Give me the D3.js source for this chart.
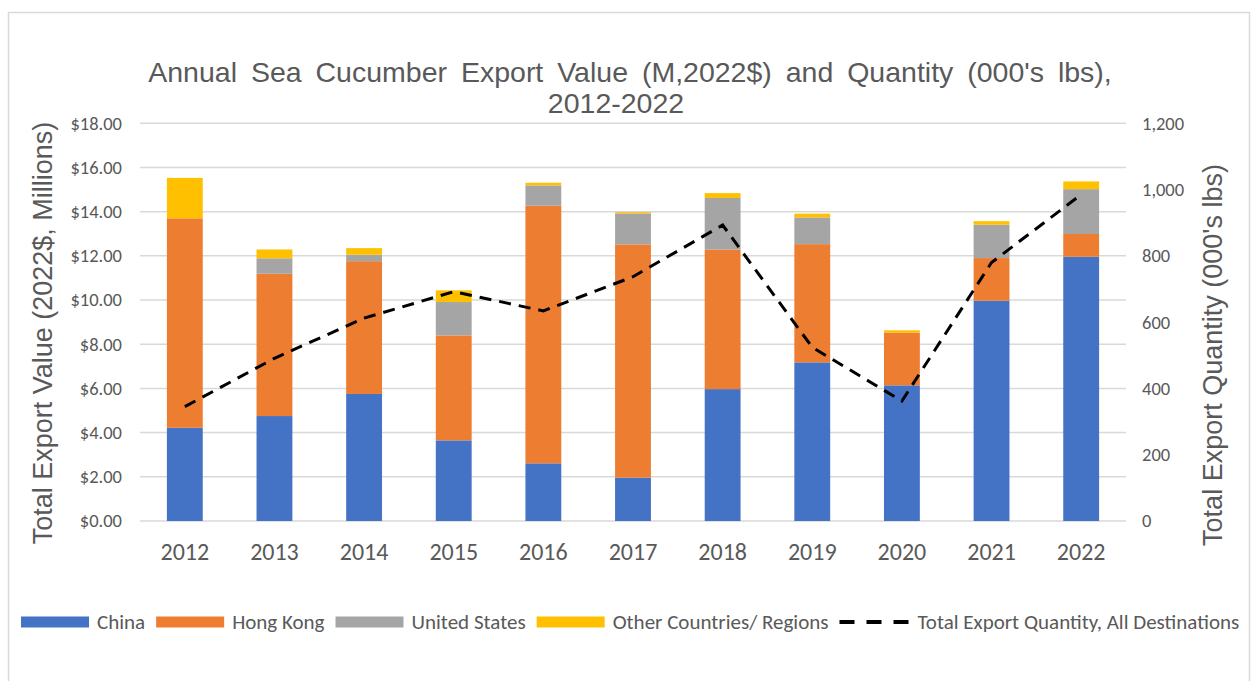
<!DOCTYPE html>
<html>
<head>
<meta charset="utf-8">
<script src="https://cdn.jsdelivr.net/npm/d3@7"></script>
<style>
  body { margin: 0; background: #fff; }
  svg { display: block; }
</style>
</head>
<body>
<div id="chart"></div>
<script>
// Chart data
const years = ["2012", "2013", "2014", "2015", "2016", "2017", "2018", "2019", "2020", "2021", "2022"];
const china = [4.22, 4.75, 5.75, 3.65, 2.61, 1.96, 5.97, 7.18, 6.14, 9.97, 11.96];
const hongKong = [9.48, 6.44, 6.01, 4.75, 11.66, 10.56, 6.32, 5.35, 2.38, 1.93, 1.03];
const unitedStates = [0.00, 0.70, 0.29, 1.51, 0.92, 1.40, 2.33, 1.21, 0.00, 1.51, 2.03];
const otherRegions = [1.83, 0.40, 0.30, 0.53, 0.12, 0.06, 0.22, 0.17, 0.11, 0.16, 0.35];
const totalQuantity = [345, 491, 612, 692, 634, 737, 893, 524, 362, 780, 985];

const valueTicks = [0, 2, 4, 6, 8, 10, 12, 14, 16, 18];
const quantityTicks = [0, 200, 400, 600, 800, 1000, 1200];

const seriesNames = ["China", "Hong Kong", "United States", "Other Countries/ Regions"];
const seriesColors = ["#4472C4", "#ED7D31", "#A5A5A5", "#FFC000"];
const lineLabel = "Total Export Quantity, All Destinations";

const width = 1255, height = 681;
const plot = { left: 140, right: 1126, top: 123.3, bottom: 521 };
const textColor = "#595959";
const labelFont = "Carlito, Calibri, Roboto, sans-serif";
const titleFont = "'Liberation Sans', Arial, sans-serif";

// Build stack rows from the arrays
const rows = years.map((y, i) => ({
    year: y,
    "China": china[i],
    "Hong Kong": hongKong[i],
    "United States": unitedStates[i],
    "Other Countries/ Regions": otherRegions[i]
}));
const stacked = d3.stack().keys(seriesNames)(rows);

const x = d3.scaleBand()
    .domain(years)
    .range([plot.left, plot.right])
    .paddingInner(0.6)
    .paddingOuter(0.3);
const yLeft = d3.scaleLinear().domain([0, 18]).range([plot.bottom, plot.top]);
const yRight = d3.scaleLinear().domain([0, 1200]).range([plot.bottom, plot.top]);

const svg = d3.select("#chart")
    .append("svg")
    .attr("width", width)
    .attr("height", height);

// chart frame, everything is clipped to it
svg.append("clipPath").attr("id", "frame-clip")
    .append("rect")
    .attr("x", 8).attr("y", 12)
    .attr("width", 1241).attr("height", 700);
svg.append("rect")
    .attr("x", 8.5).attr("y", 12.5)
    .attr("width", 1241).attr("height", 700)
    .attr("fill", "#fff")
    .attr("stroke", "#d9d9d9")
    .attr("stroke-width", 1.5);
const g = svg.append("g").attr("clip-path", "url(#frame-clip)");

// Title
const title = g.append("text")
    .attr("text-anchor", "middle")
    .attr("fill", textColor)
    .style("font-family", titleFont)
    .style("font-size", "28.5px")
    .style("word-spacing", "6px");
title.append("tspan").attr("x", 630).attr("y", 82)
    .text("Annual Sea Cucumber Export Value (M,2022$) and Quantity (000's lbs),");
title.append("tspan").attr("x", 616).attr("y", 113)
    .text("2012-2022");

// Gridlines
g.append("g")
    .selectAll("line")
    .data(valueTicks)
    .join("line")
    .attr("x1", plot.left).attr("x2", plot.right)
    .attr("y1", d => yLeft(d)).attr("y2", d => yLeft(d))
    .attr("stroke", "#d9d9d9")
    .attr("stroke-width", 1.5);

// Left axis
const leftAxis = g.append("g")
    .attr("transform", `translate(${plot.left - 18},0)`)
    .call(d3.axisLeft(yLeft).tickValues(valueTicks).tickSize(0).tickFormat(d => "$" + d3.format(".2f")(d)));
leftAxis.select(".domain").remove();
leftAxis.selectAll("text")
    .attr("fill", textColor)
    .attr("x", 0)
    .style("font-family", labelFont)
    .style("font-size", "18.5px");

// Right axis
const rightAxis = g.append("g")
    .attr("transform", `translate(${plot.right + 16},0)`)
    .call(d3.axisRight(yRight).tickValues(quantityTicks).tickSize(0).tickFormat(d3.format(",")));
rightAxis.select(".domain").remove();
rightAxis.selectAll("text")
    .attr("fill", textColor)
    .attr("x", 0)
    .style("font-family", labelFont)
    .style("font-size", "18.5px");

// X axis labels
const xAxis = g.append("g")
    .attr("transform", `translate(0,${plot.bottom})`)
    .call(d3.axisBottom(x).tickSize(0));
xAxis.select(".domain").remove();
xAxis.selectAll("text")
    .attr("fill", textColor)
    .attr("y", 39)
    .attr("dy", 0)
    .style("font-family", labelFont)
    .style("font-size", "24px");

// Axis titles
g.append("text")
    .attr("transform", `translate(52,333) rotate(-90)`)
    .attr("text-anchor", "middle")
    .attr("fill", textColor)
    .style("font-family", titleFont)
    .style("font-size", "27px")
    .text("Total Export Value (2022$, Millions)");
g.append("text")
    .attr("transform", `translate(1222,355) rotate(-90)`)
    .attr("text-anchor", "middle")
    .attr("fill", textColor)
    .style("font-family", titleFont)
    .style("font-size", "27px")
    .text("Total Export Quantity (000's lbs)");

// Stacked bars
g.append("g")
    .selectAll("g")
    .data(stacked)
    .join("g")
    .attr("fill", (d, i) => seriesColors[i])
    .selectAll("rect")
    .data(d => d.filter(p => p[1] - p[0] > 0))
    .join("rect")
    .attr("x", d => x(d.data.year))
    .attr("width", x.bandwidth())
    .attr("y", d => yLeft(d[1]))
    .attr("height", d => yLeft(d[0]) - yLeft(d[1]));

// Quantity line
const line = d3.line()
    .x((d, i) => x(years[i]) + x.bandwidth() / 2)
    .y(d => yRight(d));
g.append("path")
    .datum(totalQuantity)
    .attr("d", line)
    .attr("fill", "none")
    .attr("stroke", "#000")
    .attr("stroke-width", 3)
    .attr("stroke-dasharray", "12,8");

// Legend
const legend = g.append("g").attr("transform", "translate(21,622)");
let lx = 0;
seriesNames.forEach((name, i) => {
    legend.append("rect")
        .attr("x", lx).attr("y", -5.5)
        .attr("width", 68).attr("height", 11)
        .attr("fill", seriesColors[i]);
    const t = legend.append("text")
        .attr("x", lx + 76).attr("y", 7)
        .attr("fill", textColor)
        .style("font-family", labelFont)
        .style("font-size", "21px")
        .text(name);
    lx += 76 + t.node().getComputedTextLength() + 11;
});
legend.append("line")
    .attr("x1", lx).attr("x2", lx + 69)
    .attr("y1", 0).attr("y2", 0)
    .attr("stroke", "#000")
    .attr("stroke-width", 4)
    .attr("stroke-dasharray", "15,12");
legend.append("text")
    .attr("x", lx + 78).attr("y", 7)
    .attr("fill", textColor)
    .style("font-family", labelFont)
    .style("font-size", "21px")
    .text(lineLabel);
</script>
</body>
</html>
